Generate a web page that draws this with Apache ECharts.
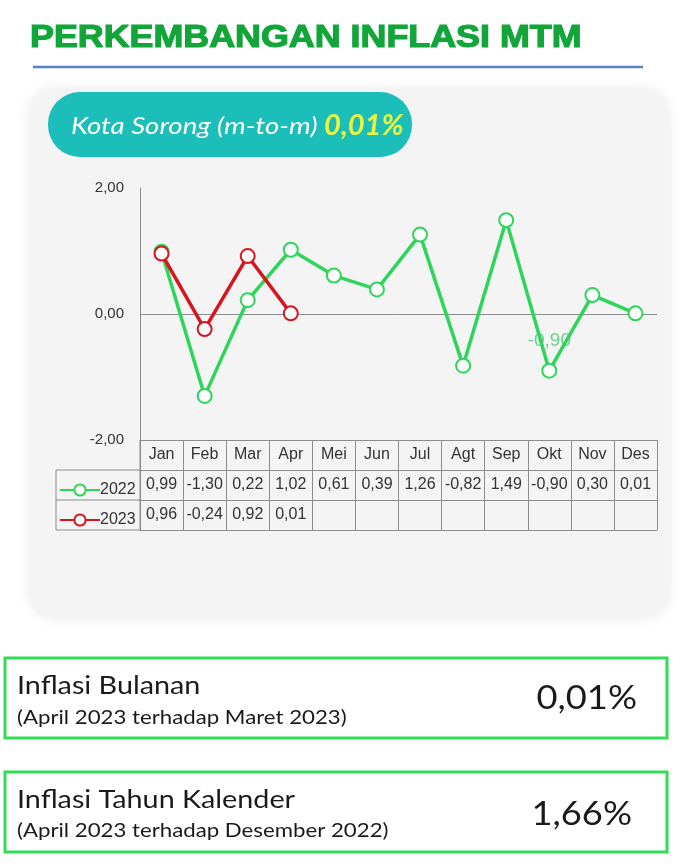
<!DOCTYPE html>
<html>
<head>
<meta charset="utf-8">
<script src="https://cdn.jsdelivr.net/npm/echarts@6/dist/echarts.min.js"></script>
<style>
  html, body { margin: 0; padding: 0; background: #fff; }
  #main { width: 683px; height: 864px; }
</style>
</head>
<body>
<div id="main"></div>
<script>
// data
var months = ['Jan', 'Feb', 'Mar', 'Apr', 'Mei', 'Jun', 'Jul', 'Agt', 'Sep', 'Okt', 'Nov', 'Des'];
var infl2022 = [0.99, -1.30, 0.22, 1.02, 0.61, 0.39, 1.26, -0.82, 1.49, -0.90, 0.30, 0.01];
var infl2023 = [0.96, -0.24, 0.92, 0.01];
var yTicks = [-2, 0, 2];
var mtmApr2023 = 0.01;
var ytdApr2023 = 1.66;

// comma decimal like the source
function fmt(v) {
  if (v === null || v === undefined) return '';
  return v.toFixed(2).replace('.', ',');
}

var tblFont = 'Liberation Sans';
var tblSize = 16;

var green = '#2fd55a';
var red = '#d8141e';
var gridLine = '#8c8c8c';
var textCol = '#333';
var boxText = '#1a1a1a';

var chart = echarts.init(document.getElementById('main'));

// only Okt gets the floating label
var s2022 = infl2022.map(function (v, i) {
  if (months[i] === 'Okt') {
    return {
      value: v,
      label: {
        show: true, position: 'top', distance: 12,
        formatter: function (p) { return fmt(p.value); },
        color: 'rgba(70,200,110,0.8)', fontSize: 19,
        fontFamily: tblFont
      }
    };
  }
  return v;
});

function tableAxis(offset, formatter, showTick, showLabel) {
  return {
    type: 'category',
    data: months,
    position: 'bottom',
    offset: offset,
    boundaryGap: true,
    axisLine: { show: true, onZero: false, lineStyle: { color: gridLine, width: 1 } },
    axisTick: { show: showTick, length: 30, lineStyle: { color: gridLine, width: 1 } },
    axisLabel: {
      show: showLabel, margin: 7, fontSize: tblSize, color: textCol,
      fontFamily: tblFont, interval: 0,
      formatter: formatter
    }
  };
}

function legendRow(name, top) {
  return {
    data: [name], left: 54, top: top, itemWidth: 40, itemHeight: 14, itemGap: 2,
    textStyle: { fontSize: tblSize, fontFamily: tblFont, color: textCol, padding: [0, 0, 0, -5] }
  };
}

option = {
  backgroundColor: '#fff',
  animation: false,
  textStyle: { fontFamily: 'Liberation Sans' },
  grid: { left: 140, right: 26, top: 188, bottom: 424, containLabel: false },
  legend: [legendRow('2022', 477), legendRow('2023', 507)],
  xAxis: [
    tableAxis(0, function (v) { return v; }, true, true),
    tableAxis(30, function (v, i) { return fmt(infl2022[i]); }, true, true),
    tableAxis(60, function (v, i) { return fmt(infl2023[i]); }, true, true),
    tableAxis(90, function () { return ''; }, false, false)
  ],
  yAxis: {
    type: 'value',
    min: yTicks[0],
    max: yTicks[yTicks.length - 1],
    interval: 2,
    axisLine: { show: true, lineStyle: { color: gridLine } },
    axisTick: { show: false },
    axisLabel: {
      margin: 16, fontSize: 15, color: textCol, fontFamily: tblFont,
      formatter: function (v) { return fmt(v); }
    },
    // only the zero line is drawn
    splitLine: { show: true, lineStyle: { color: ['rgba(0,0,0,0)', gridLine, 'rgba(0,0,0,0)'], width: 1 } }
  },
  series: [
    {
      name: '2022', type: 'line', data: s2022, xAxisIndex: 0,
      symbol: 'emptyCircle', symbolSize: 14,
      lineStyle: { color: green, width: 3.5 },
      itemStyle: { color: green, borderWidth: 3 },
      z: 3
    },
    {
      name: '2023', type: 'line', data: infl2023, xAxisIndex: 0,
      symbol: 'emptyCircle', symbolSize: 14,
      lineStyle: { color: red, width: 3.5 },
      itemStyle: { color: red, borderWidth: 3 },
      z: 4
    }
  ],
  graphic: [
    // grey card behind the chart
    {
      type: 'rect', z: -10, silent: true,
      shape: { x: 30, y: 90, width: 638, height: 527, r: 24 },
      style: { fill: '#f4f4f4', shadowBlur: 14, shadowColor: 'rgba(0,0,0,0.10)' }
    },
    {
      type: 'text', x: 30, y: 22, scaleX: 1.12,
      style: {
        text: 'PERKEMBANGAN INFLASI MTM', fill: '#12a53a',
        stroke: '#12a53a', lineWidth: 1.2, verticalAlign: 'top',
        font: 'bold 32px "Liberation Sans"'
      }
    },
    {
      type: 'line', shape: { x1: 33, y1: 67, x2: 643, y2: 67 },
      style: { stroke: '#5b7fc9', lineWidth: 2.5 }
    },
    // badge
    {
      type: 'rect', shape: { x: 48, y: 92, width: 364, height: 65, r: 32 },
      style: { fill: '#1cbeba' }
    },
    {
      type: 'text', x: 71, y: 126, scaleX: 1.15,
      style: {
        text: 'Kota Sorong (m-to-m)', fill: '#fff', verticalAlign: 'middle',
        font: 'italic 24px Lato'
      }
    },
    {
      type: 'text', x: 324, y: 126, scaleX: 1.04,
      style: {
        text: fmt(mtmApr2023) + '%', fill: '#eaf53b', verticalAlign: 'middle',
        font: 'italic bold 28px Lato'
      }
    },
    // legend column of the table
    {
      type: 'polyline', z: 1,
      shape: { points: [[140, 470], [56, 470], [56, 530], [140, 530]] },
      style: { stroke: gridLine, lineWidth: 1, fill: null }
    },
    {
      type: 'line', z: 1, shape: { x1: 56, y1: 500, x2: 140, y2: 500 },
      style: { stroke: gridLine, lineWidth: 1 }
    },
    {
      type: 'line', z: 1, shape: { x1: 140, y1: 440, x2: 140, y2: 530 },
      style: { stroke: gridLine, lineWidth: 1 }
    },
    // summary boxes
    {
      type: 'rect', shape: { x: 5, y: 658, width: 662, height: 80 },
      style: { fill: '#fff', stroke: '#33dc55', lineWidth: 3 }
    },
    {
      type: 'text', x: 17, y: 686, scaleX: 1.15,
      style: { text: 'Inflasi Bulanan', fill: boxText, verticalAlign: 'middle', font: '25px Lato' }
    },
    {
      type: 'text', x: 17, y: 718, scaleX: 1.17,
      style: { text: '(April 2023 terhadap Maret 2023)', fill: boxText, verticalAlign: 'middle', font: '19px Lato' }
    },
    {
      type: 'text', x: 637, y: 698, scaleX: 1.1,
      style: { text: fmt(mtmApr2023) + '%', fill: boxText, align: 'right', verticalAlign: 'middle', font: '33px Lato' }
    },
    {
      type: 'rect', shape: { x: 5, y: 772, width: 662, height: 80 },
      style: { fill: '#fff', stroke: '#33dc55', lineWidth: 3 }
    },
    {
      type: 'text', x: 17, y: 800, scaleX: 1.15,
      style: { text: 'Inflasi Tahun Kalender', fill: boxText, verticalAlign: 'middle', font: '25px Lato' }
    },
    {
      type: 'text', x: 17, y: 831, scaleX: 1.17,
      style: { text: '(April 2023 terhadap Desember 2022)', fill: boxText, verticalAlign: 'middle', font: '19px Lato' }
    },
    {
      type: 'text', x: 632, y: 814, scaleX: 1.1,
      style: { text: fmt(ytdApr2023) + '%', fill: boxText, align: 'right', verticalAlign: 'middle', font: '33px Lato' }
    }
  ]
};

chart.setOption(option);
</script>
</body>
</html>
